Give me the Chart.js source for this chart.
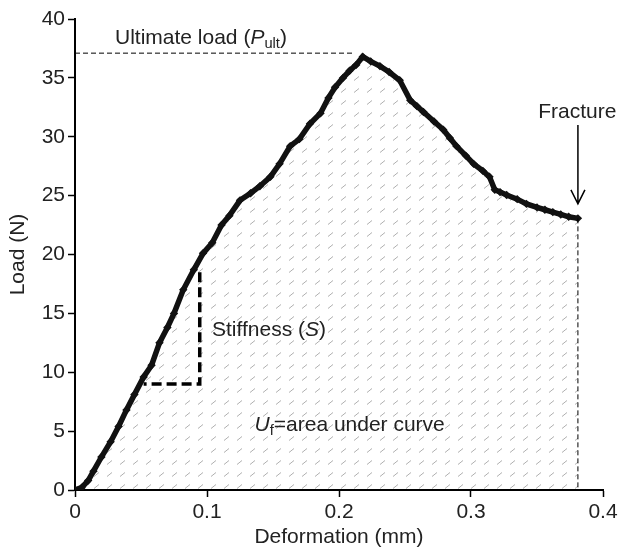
<!DOCTYPE html>
<html>
<head>
<meta charset="utf-8">
<script src="https://cdn.jsdelivr.net/npm/chart.js@4/dist/chart.umd.min.js"></script>
<style>
  html, body { margin: 0; padding: 0; background: #fff; }
  #wrap { width: 624px; height: 550px; }
</style>
</head>
<body>
<div id="wrap"><canvas id="chart"></canvas></div>
<script>
// load-deformation curve
var deformation = [0, 0.005, 0.01, 0.014, 0.02, 0.027, 0.033, 0.039, 0.045, 0.052, 0.058, 0.064, 0.070, 0.075, 0.082, 0.090, 0.097,
  0.104, 0.111, 0.117, 0.125, 0.133, 0.140, 0.148, 0.155, 0.163, 0.170, 0.178, 0.186, 0.192, 0.197, 0.203, 0.208, 0.213, 0.218,
  0.224, 0.231, 0.238, 0.246, 0.254, 0.259, 0.264, 0.272, 0.279, 0.284, 0.289, 0.296, 0.302, 0.309, 0.314, 0.318, 0.322, 0.327,
  0.335, 0.342, 0.350, 0.356, 0.362, 0.368, 0.374, 0.381];
var load = [0, 0.2, 0.8, 1.6, 2.8, 4.1, 5.4, 6.8, 8.1, 9.6, 10.6, 12.5, 13.8, 15.0, 17.0, 18.7, 20.1,
  21.0, 22.5, 23.3, 24.6, 25.2, 25.8, 26.6, 27.7, 29.2, 29.8, 31.1, 32.0, 33.3, 34.2, 35.0, 35.6, 36.1, 36.8,
  36.4, 36.0, 35.5, 34.8, 33.1, 32.6, 32.1, 31.3, 30.6, 29.9, 29.2, 28.4, 27.7, 27.1, 26.6, 25.5, 25.3, 25.05,
  24.7, 24.3, 24.0, 23.8, 23.6, 23.4, 23.2, 23.07];
var xTicks = [0, 0.1, 0.2, 0.3, 0.4];
var yTicks = [0, 5, 10, 15, 20, 25, 30, 35, 40];

// annotation values
var ultLoad = 37.1, ultLineEnd = 0.211;
var stiffX = [0.052, 0.0945], stiffY = [9.0, 18.5];
var fractureX = 0.381, fractureArrow = [31.0, 24.3];

var FONT = '"Liberation Sans", Arial, Helvetica, sans-serif';
var FS = 21;

// hatch pattern for area under curve
var tile = document.createElement('canvas');
tile.width = 13; tile.height = 12;
var tctx = tile.getContext('2d');
tctx.strokeStyle = '#b0b0b0';
tctx.lineWidth = 1;
tctx.beginPath();
tctx.moveTo(3, 8.5); tctx.lineTo(8, 4.5);
tctx.stroke();
var hatch = document.getElementById('chart').getContext('2d').createPattern(tile, 'repeat');

var points = deformation.map(function (d, i) { return { x: d, y: load[i] }; });

function drawRich(ctx, parts, x, y, size) {
  var cx = x;
  parts.forEach(function (p) {
    var fs = p.sub ? size * 0.7 : size;
    ctx.font = (p.it ? 'italic ' : '') + fs + 'px ' + FONT;
    ctx.fillText(p.t, cx, y + (p.sub ? size * 0.28 : 0));
    cx += ctx.measureText(p.t).width;
  });
}

var annotations = {
  id: 'annotations',
  afterDatasetsDraw: function (chart) {
    var ctx = chart.ctx;
    var xs = chart.scales.x, ys = chart.scales.y;
    ctx.save();
    ctx.strokeStyle = '#000';
    ctx.fillStyle = '#222';
    // ultimate load line
    ctx.lineWidth = 1;
    ctx.setLineDash([5, 3]);
    ctx.beginPath();
    ctx.moveTo(xs.getPixelForValue(0), ys.getPixelForValue(ultLoad));
    ctx.lineTo(xs.getPixelForValue(ultLineEnd), ys.getPixelForValue(ultLoad));
    ctx.stroke();
    // fracture vertical
    ctx.beginPath();
    ctx.moveTo(xs.getPixelForValue(fractureX), ys.getPixelForValue(load[load.length - 1]));
    ctx.lineTo(xs.getPixelForValue(fractureX), ys.getPixelForValue(0));
    ctx.stroke();
    // stiffness triangle
    ctx.lineWidth = 3.5;
    ctx.setLineDash([10, 5]);
    ctx.beginPath();
    ctx.moveTo(xs.getPixelForValue(stiffX[1]), ys.getPixelForValue(stiffY[1]));
    ctx.lineTo(xs.getPixelForValue(stiffX[1]), ys.getPixelForValue(stiffY[0]));
    ctx.lineTo(xs.getPixelForValue(stiffX[0]), ys.getPixelForValue(stiffY[0]));
    ctx.stroke();
    // fracture arrow
    ctx.setLineDash([]);
    ctx.lineWidth = 1.5;
    var ax = xs.getPixelForValue(fractureX);
    var ay0 = ys.getPixelForValue(fractureArrow[0]), ay1 = ys.getPixelForValue(fractureArrow[1]);
    ctx.beginPath();
    ctx.moveTo(ax, ay0); ctx.lineTo(ax, ay1);
    ctx.moveTo(ax - 7, ay1 - 14); ctx.lineTo(ax, ay1); ctx.lineTo(ax + 7, ay1 - 14);
    ctx.stroke();
    // labels
    ctx.textBaseline = 'middle';
    ctx.textAlign = 'left';
    drawRich(ctx, [{ t: 'Ultimate load (' }, { t: 'P', it: true }, { t: 'ult', sub: true }, { t: ')' }],
      xs.getPixelForValue(0.0303), ys.getPixelForValue(38.4), FS);
    drawRich(ctx, [{ t: 'Stiffness (' }, { t: 'S', it: true }, { t: ')' }],
      xs.getPixelForValue(0.1038), ys.getPixelForValue(13.6), FS);
    drawRich(ctx, [{ t: 'U', it: true }, { t: 'f', sub: true }, { t: '=area under curve' }],
      xs.getPixelForValue(0.136), ys.getPixelForValue(5.5), FS);
    ctx.textAlign = 'center';
    ctx.font = FS + 'px ' + FONT;
    ctx.fillText('Fracture', xs.getPixelForValue(0.3805), ys.getPixelForValue(32.1));
    ctx.restore();
  }
};

new Chart(document.getElementById('chart'), {
  type: 'scatter',
  data: {
    datasets: [{
      data: points,
      showLine: true,
      borderColor: '#111',
      borderWidth: 5.5,
      pointStyle: 'rectRot',
      pointRadius: 4.2,
      pointBackgroundColor: '#111',
      pointBorderColor: '#111',
      pointBorderWidth: 0,
      fill: 'origin',
      backgroundColor: hatch,
      tension: 0
    }]
  },
  options: {
    responsive: true,
    maintainAspectRatio: false,
    animation: false,
    layout: { padding: { top: 19, right: 21, left: 0, bottom: 0 } },
    plugins: { legend: { display: false }, tooltip: { enabled: false } },
    scales: {
      x: {
        type: 'linear', min: 0, max: 0.4,
        afterBuildTicks: function (s) { s.ticks = xTicks.map(function (v) { return { value: v }; }); },
        afterFit: function (s) { s.height = 60; },
        ticks: { color: '#222', font: { family: FONT, size: FS }, padding: 3,
          callback: function (v) { return String(v); } },
        grid: { drawOnChartArea: false, tickLength: 7, tickColor: '#000', tickWidth: 1.5 },
        border: { color: '#000', width: 2 },
        title: { display: true, text: 'Deformation (mm)', color: '#222', font: { family: FONT, size: FS }, padding: 0 }
      },
      y: {
        type: 'linear', min: 0, max: 40,
        afterBuildTicks: function (s) { s.ticks = yTicks.map(function (v) { return { value: v }; }); },
        afterFit: function (s) { s.width = 75; },
        ticks: { color: '#222', font: { family: FONT, size: FS }, padding: 3 },
        grid: { drawOnChartArea: false, tickLength: 7, tickColor: '#000', tickWidth: 1.5 },
        border: { color: '#000', width: 2 },
        title: { display: true, text: 'Load (N)', color: '#222', font: { family: FONT, size: FS }, padding: { top: 6, bottom: 0 } }
      }
    }
  },
  plugins: [annotations]
});
</script>
</body>
</html>
